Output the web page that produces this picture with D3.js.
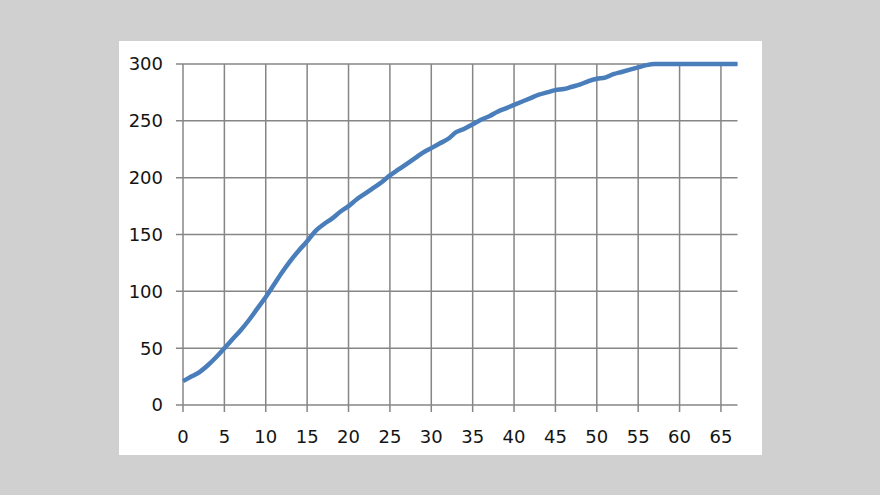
<!DOCTYPE html>
<html><head><meta charset="utf-8">
<script src="https://cdn.jsdelivr.net/npm/d3@7"></script>
<style>html,body{margin:0;padding:0;background:#d0d0d0;}svg{display:block;}</style>
</head><body>
<svg id="c" width="880" height="495"></svg>
<script>
const xValues = d3.range(0, 68);
const yValues = [21,25,29,35,42,50,58,66,75,85,95,106,117,127,136,144,153,159,164,170,175,181,186,191,196,202,207,212,217,222,226,230,234,240,243,247,251,254,258,261,264,267,270,273,275,277,278,280,282,285,287,288,291,293,295,297,299,300,300,300,300,300,300,300,300,300,300,300];
const xTicks = [0,5,10,15,20,25,30,35,40,45,50,55,60,65];
const yTicks = [0,50,100,150,200,250,300];

const svg = d3.select("#c");
svg.append("rect").attr("x",0).attr("y",0).attr("width",880).attr("height",495).attr("fill","#d0d0d0");
svg.append("rect").attr("x",119).attr("y",41).attr("width",643).attr("height",414).attr("fill","#ffffff");

const x = d3.scaleLinear().domain([0,67]).range([183,737.5]);
const y = d3.scaleLinear().domain([0,300]).range([405,64]);
const grid = "#868686";
const font = "DejaVu Sans, Verdana, sans-serif";

svg.append("g").selectAll("line").data(yTicks).join("line")
  .attr("x1",176).attr("x2",x(67)).attr("y1",d=>y(d)).attr("y2",d=>y(d))
  .attr("stroke",grid).attr("stroke-width",1.5);
svg.append("g").selectAll("line").data(xTicks).join("line")
  .attr("x1",d=>x(d)).attr("x2",d=>x(d)).attr("y1",y(300)).attr("y2",412)
  .attr("stroke",grid).attr("stroke-width",1.5);

svg.append("g").selectAll("text").data(yTicks).join("text")
  .attr("x",163).attr("y",d=>y(d)).attr("dy","0.36em").attr("text-anchor","end")
  .attr("font-family",font).attr("font-size",18).attr("fill","#141414").text(d=>d);
svg.append("g").selectAll("text").data(xTicks).join("text")
  .attr("x",d=>x(d)).attr("y",443).attr("text-anchor","middle")
  .attr("font-family",font).attr("font-size",18).attr("fill","#141414").text(d=>d);

const line = d3.line().x((d,i)=>x(xValues[i])).y(d=>y(d)).curve(d3.curveMonotoneX);
svg.append("path").datum(yValues).attr("d",line).attr("fill","none")
  .attr("stroke","#4a7ebb").attr("stroke-width",4.5).attr("stroke-linejoin","round").attr("stroke-linecap","butt");
</script>
</body></html>
